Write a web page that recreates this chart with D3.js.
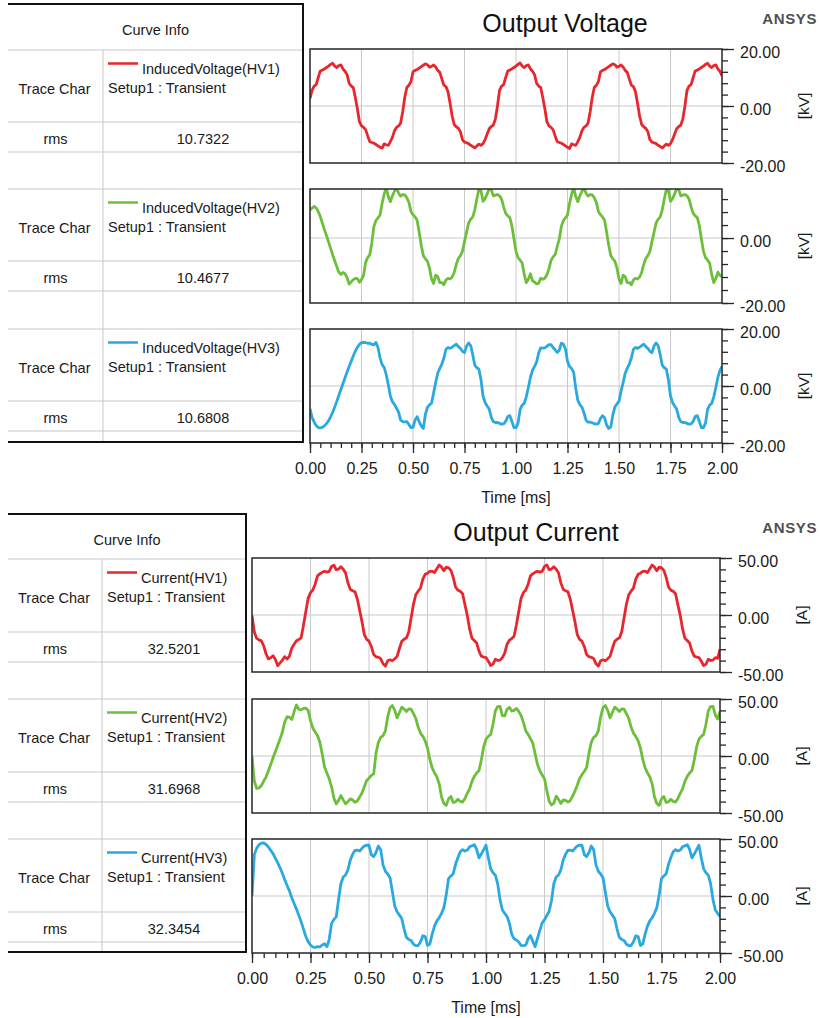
<!DOCTYPE html>
<html>
<head>
<meta charset="utf-8">
<script src="https://cdn.jsdelivr.net/npm/d3@7"></script>
<style>
  body { margin: 0; background: #fff; }
  svg { display: block; font-family: "Liberation Sans", Arial, sans-serif; }
</style>
</head>
<body>
<script>
// sample times in ms, one every 0.01 ms
var timeMs = d3.range(201).map(function(i) { return i / 100; });

// induced voltage, kV
var voltHV1 = [
  2.7, 5.5, 7, 7.5, 10, 12.3, 12.6, 13, 13.5, 14,
  14.6, 15, 14, 13.5, 14.2, 14.4, 13, 12.2, 11, 8,
  7, 6.5, 3, -1, -5.5, -7, -7.5, -8.3, -10.5, -12.5,
  -12.8, -13, -13.5, -14, -14.5, -14.8, -13.3, -13.6, -13.8, -12.5,
  -11, -8.7, -7.5, -7, -6, -2,
  3, 6.5, 7.3, 8.5, 12, 12.5, 12.8, 13.3, 13.8, 14.3,
  14.8, 14.5, 13.6, 13.9, 14.4, 13.7, 12.5, 11.8, 9.5, 7.3,
  6.8, 5, 1, -3.5, -6.5, -7.3, -7.8, -9, -11.8, -12.7,
  -12.9, -13.2, -13.8, -14.2, -14.7, -14, -13.4, -13.8, -13.2, -11.8,
  -9.8, -8, -7.2, -6.7, -4.5,
  0, 5.5, 7, 7.5, 10, 12.3, 12.6, 13, 13.5, 14,
  14.6, 15.1, 14, 13.5, 14.2, 14.4, 13, 12.2, 11, 8,
  7, 6.5, 3, -1, -5.5, -7, -7.5, -8.3, -10.5, -12.5,
  -12.8, -13, -13.5, -14, -14.5, -14.9, -13.3, -13.6, -13.8, -12.5,
  -11, -8.7, -7.5, -7, -6, -2,
  3, 6.5, 7.3, 8.5, 12, 12.5, 12.8, 13.3, 13.8, 14.3,
  14.8, 14.5, 13.6, 13.9, 14.4, 13.7, 12.5, 11.8, 9.5, 7.3,
  6.8, 5, 1, -3.5, -6.5, -7.3, -7.8, -9, -11.8, -12.7,
  -12.9, -13.2, -13.8, -14.2, -14.7, -14, -13.4, -13.8, -13.2, -11.8,
  -9.8, -8, -7.2, -6.7, -4.5,
  0, 5.5, 7, 7.5, 10, 12.3, 12.6, 13, 13.5, 14,
  14.6, 15, 14, 13.5, 14.2, 14.4, 13, 12.2, 10.5
];
var voltHV2 = [
  8.7, 9.2, 9.7, 9.3, 8.2, 6.6, 4.6, 2.6, 0.8, -1.2,
  -3.2, -5.2, -7, -8.8, -10.5, -11.2, -10.6, -11, -12.2, -14.2,
  -13.5, -12.8, -12.4, -12.5, -13.6, -12.8, -11.5, -7.5, -6, -5.2,
  -1.5,
  3.5, 5.4, 6.2, 7.1, 10.7, 13.5, 15.5, 12.8, 11.2, 13,
  14.4, 15.5, 13.8, 12.9, 13.4, 13.3, 12.4, 11, 8.2, 7.2,
  6.5, 5.5, 1.8, -2.2, -5.4, -6.4, -7.1, -9.2, -12.6, -14,
  -11.4, -11.9, -13.7, -13.7, -14.4, -12.9, -12.4, -12.6, -12, -10.6,
  -8.1, -6.3, -5.4, -4.1, -1.1,
  1.8, 4.6, 5.8, 6.5, 8.7, 12.1, 15, 14.6, 11.3, 12.1,
  13.6, 15.2, 14.9, 13, 13.2, 13.4, 13, 12, 9.6, 7.6,
  6.8, 6.3, 3.8, -0.2, -4.1, -6, -6.8, -7.7, -11.2, -13.7,
  -12.7, -11, -13.1, -13.6, -14.1, -13.9, -12.4, -12.7, -12.4, -11.3,
  -9.5, -6.9, -5.8, -5.1, -2.6,
  -0.3,
  3.5, 5.4, 6.2, 7.1, 10.7, 13.5, 15.5, 12.8, 11.2, 13,
  14.4, 15.5, 13.8, 12.9, 13.4, 13.3, 12.4, 11, 8.2, 7.2,
  6.5, 5.5, 1.8, -2.2, -5.4, -6.4, -7.1, -9.2, -12.6, -14,
  -11.4, -11.9, -13.7, -13.7, -14.4, -12.9, -12.4, -12.6, -12, -10.6,
  -8.1, -6.3, -5.4, -4.1, -1.1,
  1.8, 4.6, 5.8, 6.5, 8.7, 12.1, 15, 14.6, 11.3, 12.1,
  13.6, 15.2, 14.9, 13, 13.2, 13.4, 13, 12, 9.6, 7.6,
  6.8, 6.3, 3.8, -0.2, -4.1, -6, -6.8, -7.7, -11.2, -13.7,
  -12.5, -10.5, -11.5, -12
];
var voltHV3 = [
  -8, -11, -12.6, -13.9, -14.6, -14.7, -14.5, -14, -13.2, -12.2,
  -10.8, -9.2, -7.4, -5.4, -3.3, -1.2, 0.8, 2.9, 4.9, 6.8,
  8.7, 10.5, 12.2, 13.6, 14.6, 15.2, 15.3, 15.2, 15, 15,
  14.6, 14.4, 15.3, 13.5, 9.9, 7.5, 6.5, 4, 0.5, -3.5,
  -5.5, -6.5, -7.8, -9.2, -12, -12.5, -12.6, -12.5, -13.5, -14.6,
  -14.5, -12, -10.8, -12.5, -14, -14.9, -10, -7.5, -6.6, -6,
  -2.5,
  1.2, 4.5, 6.2, 7.7, 9.8, 12.9, 13.5, 13.2, 13.6, 14.2,
  14.7, 13.8, 13.2, 12.2, 11.7, 14, 15.1, 14.2, 11, 7.3,
  6.4, 5.9, 2.2, -3.5, -5.8, -7, -8.1, -11, -12.5, -12.8,
  -12.8, -13.1, -13.4, -13.3, -12.4, -10.7, -10.4, -12.4, -14.6, -14.6,
  -13, -8.2, -6.7, -6.1, -3.8,
  -0.5, 3, 5.5, 6.9, 8.4, 11.6, 13.4, 13.3, 13.4, 13.9,
  14.5, 14.5, 13.5, 12.7, 11.8, 12.5, 15, 14.7, 13, 8.7,
  6.8, 6.1, 4.8, -0.8, -5, -6.5, -7.4, -9.4, -12, -12.7,
  -12.7, -12.9, -13.2, -13.4, -13.1, -11.4, -10.4, -11.1, -13.7, -14.9,
  -14.4, -10.2, -7.3, -6.3, -5.4, -1.8,
  1.2, 4.5, 6.2, 7.7, 9.8, 12.9, 13.5, 13.2, 13.6, 14.2,
  14.7, 13.8, 13.2, 12.2, 11.7, 14, 15.1, 14.2, 11, 7.3,
  6.4, 5.9, 2.2, -3.5, -5.8, -7, -8.1, -11, -12.5, -12.8,
  -12.8, -13.1, -13.4, -13.3, -12.4, -10.7, -10.4, -12.4, -14.6, -14.6,
  -13, -8.2, -6.7, -6.1, -3.8,
  -0.5, 3, 5.5, 6.9
];

// output current, A
var currHV1 = [
  -0.5, -15, -20.5, -21.8, -22.7, -27, -34, -38.5, -37.5, -35.8,
  -39, -44.5, -42, -39.5, -36.5, -38.7, -36, -29, -25.6, -22.5,
  -21.5, -20, -9,
  3, 14.6, 19.6, 21.9, 27, 34.3, 36.2, 37.4, 38.4, 37.6,
  38.3, 42.6, 43.7, 39.7, 40.3, 42.4, 40.2, 36.8, 28.2, 22.5,
  21.3, 20.4, 14, 4.2, -5.8, -17.2, -21.4, -23, -27.6, -34.7,
  -36.6, -37.1, -38.3, -42.8, -44.8, -40.1, -39.3, -40.1, -38.4, -36.3,
  -29.4, -23.1, -21.3, -20.1, -14.6, -2.6,
  9.4, 17.8, 20.9, 23.5, 31.4, 35.7, 36.7, 38.2, 38.3, 37.2,
  40.5, 43.8, 42, 38.9, 42, 41.4, 39.1, 33, 24.4, 21.8,
  20.8, 18.6, 9, -0.3, -12.2, -20.3, -22.3, -24.5, -31.6, -36.1,
  -36.9, -37.3, -40.5, -44.4, -43.1, -38.8, -39.9, -39.6, -37.4, -33.4,
  -25.6, -22.1, -20.7, -18.7, -8.6,
  3, 14.6, 19.6, 21.9, 27, 34.3, 36.2, 37.4, 38.4, 37.6,
  38.3, 42.6, 43.9, 39.7, 40.3, 42.4, 40.2, 36.8, 28.2, 22.5,
  21.3, 20.4, 14, 4.2, -5.8, -17.2, -21.4, -23, -27.6, -34.7,
  -36.6, -37.1, -38.3, -42.8, -44.8, -40.1, -39.3, -40.1, -38.4, -36.3,
  -29.4, -23.1, -21.3, -20.1, -14.6, -2.6,
  9.4, 17.8, 20.9, 23.5, 31.4, 35.7, 36.7, 38.2, 38.3, 37.2,
  40.5, 43.8, 42, 38.9, 42, 41.4, 39.1, 33, 24.4, 21.8,
  20.8, 18.6, 9, -0.3, -12.2, -20.3, -22.3, -24.5, -31.6, -36.1,
  -36.9, -37.3, -40.5, -44.4, -43.1, -38.8, -39.9, -39.6, -37.4, -38,
  -30
];
var currHV2 = [
  0, -22, -28.5, -28, -25.9, -22, -18.5, -13, -7.5, -1.5,
  4, 9.5, 15, 21, 30, 34.4, 34, 32, 39, 44.7,
  41, 40.5, 41.8, 42, 40, 31, 24.5, 21, 18, 12,
  2, -9.7, -15, -20, -27, -37, -42, -39, -34.7, -38.5,
  -42, -40, -37.6, -38.5, -40.6, -39.5, -36, -32.5, -27, -21.5,
  -19.5, -17, -15.6,
  2.5, 12, 16.4, 17.9, 22, 34.4, 42.4, 44.3, 40, 33.4,
  38.2, 42.8, 41.2, 39, 41.3, 41, 37.2, 33, 25.4, 20.1,
  17.2, 13.4, 7, -3, -10.5, -14.8, -18.2, -24.4, -36, -41.6,
  -43.3, -37.6, -35.6, -40.8, -40.2, -38, -39.8, -40.4, -37.2, -32.7,
  -28.8, -22.3, -17.9, -14.9, -12.8, -3.5,
  8, 14.8, 17.3, 18.9, 27.8, 39.6, 43.4, 43.6, 35.4, 35.2,
  41, 42.7, 39.5, 40.1, 41.7, 39.2, 35.4, 29.4, 22, 19,
  15.2, 11.2, 2, -7.5, -12.8, -16.7, -20, -30.4, -39.8, -42.9,
  -41.4, -35.2, -38.2, -41.6, -38.6, -38.9, -40.4, -39.2, -35.2, -30.9,
  -25.6, -19.7, -16.4, -13.6, -10,
  2.5, 12, 16.4, 17.9, 22, 34.4, 42.4, 44.3, 40, 33.4,
  38.2, 42.8, 41.2, 39, 41.3, 41, 37.2, 33, 25.4, 20.1,
  17.2, 13.4, 7, -3, -10.5, -14.8, -18.2, -24.4, -36, -41.6,
  -43.3, -37.6, -35.6, -40.8, -40.2, -38, -39.8, -40.4, -37.2, -32.7,
  -28.8, -22.3, -17.9, -14.9, -12.8, -3.5,
  8, 14.8, 17.3, 18.9, 27.8, 39.6, 43.4, 43.6, 36, 32.5,
  39
];
var currHV3 = [
  0, 36.3, 42, 45, 46.4, 46.5, 45.2, 43, 40, 37.2,
  33, 29, 24.7, 19.7, 14.2, 9.2, 4.5, -1.5, -6.5, -11.5,
  -17, -22.5, -29, -35.5, -40, -43, -44.8, -45, -44.5, -44.6,
  -43, -41.9, -44.5, -38, -24, -20.5, -18.3, -3,
  11, 16.7, 18.4, 23, 31.5, 36.5, 40.1, 40.3, 39.4, 41.8,
  43.8, 44.6, 44.5, 36.3, 34.5, 38.2, 43.8, 40.6, 27.3, 21.7,
  19.3, 16, 3.6, -8.8, -13.8, -16.8, -19.8, -29, -36.3, -38.1,
  -39.1, -42.3, -43.5, -43.5, -40.4, -34.9, -35.5, -43.4, -42, -33.4,
  -26.4, -21.8, -19.1, -15.2, -10.2, 1,
  15.3, 17.6, 19.6, 27.8, 33.8, 38.8, 40.7, 39.4, 40.3, 43.1,
  44.1, 45, 41, 33.4, 36.8, 40.7, 44.5, 33.6, 24, 20.3,
  18.3, 10.6, -3.2, -12.3, -15.3, -18, -24, -33.6, -37.6, -38.6,
  -40.4, -43.4, -43.6, -42.9, -37.4, -34.7, -39.8, -44.4, -37.2, -30.2,
  -23.6, -20.9, -17.1, -13.4, -4,
  11, 16.7, 18.4, 23, 31.5, 36.5, 40.1, 40.3, 39.4, 41.8,
  43.8, 44.6, 44.5, 36.3, 34.5, 38.2, 43.8, 40.6, 27.3, 21.7,
  19.3, 16, 3.6, -8.8, -13.8, -16.8, -19.8, -29, -36.3, -38.1,
  -39.1, -42.3, -43.5, -43.5, -40.4, -34.9, -35.5, -43.4, -42, -33.4,
  -26.4, -21.8, -19.1, -15.2, -10.2, 1,
  15.3, 17.6, 19.6, 27.8, 33.8, 38.8, 40.7, 39.4, 40.3, 43.1,
  44.1, 45, 41, 33.4, 36.8, 40.7, 44.5, 33.6, 24, 20.3,
  18.3, 10.6, -3.2, -12.3, -15.3, -18
];

var voltNames = ["InducedVoltage(HV1)", "InducedVoltage(HV2)", "InducedVoltage(HV3)"];
var voltRms = ["10.7322", "10.4677", "10.6808"];
var currNames = ["Current(HV1)", "Current(HV2)", "Current(HV3)"];
var currRms = ["32.5201", "31.6968", "32.3454"];

var voltDomains = [[-20, 20], [-20, 15.1], [-20, 20]];
var voltLabels = [[20, 0, -20], [0, -20], [20, 0, -20]];
var currDomains = [[-50, 50], [-50, 50], [-50, 50]];
var currLabels = [[50, 0, -50], [50, 0, -50], [50, 0, -50]];
var xTicks = [0, 0.25, 0.5, 0.75, 1, 1.25, 1.5, 1.75, 2];

var colors = ["#e8262e", "#6dbf3b", "#2aa9e1"];
var gray = "#c9c9c9";
var dark = "#262626";

var svg = d3.select("body").append("svg")
  .attr("width", 820)
  .attr("height", 1018);

var clipId = 0;

function hline(g, y, x0, x1, col, w) {
  g.append("line").attr("x1", x0).attr("x2", x1).attr("y1", y).attr("y2", y)
    .style("stroke", col).style("stroke-width", w);
}
function vline(g, x, y0, y1, col, w) {
  g.append("line").attr("x1", x).attr("x2", x).attr("y1", y0).attr("y2", y1)
    .style("stroke", col).style("stroke-width", w);
}

function drawTable(t, names, rms) {
  var g = svg.append("g").style("font-size", "14.5px").style("fill", "#1a1a1a");
  hline(g, t.headBottom, t.x0, t.x1, gray, 1);
  vline(g, t.colX, t.headBottom, t.bottom, gray, 1);

  g.append("text").attr("x", (t.x0 + t.x1) / 2).attr("y", t.top + 31)
    .style("text-anchor", "middle").text("Curve Info");

  t.blocks.forEach(function(bt, i) {
    if (i > 0) hline(g, bt, t.x0, t.x1, gray, 1);
    hline(g, bt + t.traceH, t.x0, t.x1, gray, 1);
    hline(g, bt + t.traceH + t.rmsH, t.x0, t.x1, gray, 1);

    g.append("text").attr("x", (t.x0 + t.colX) / 2 - 1).attr("y", bt + 44)
      .style("text-anchor", "middle").text("Trace Char");
    g.append("line")
      .attr("x1", t.colX + 5).attr("x2", t.colX + 35)
      .attr("y1", bt + 13.5).attr("y2", bt + 13.5)
      .style("stroke", colors[i]).style("stroke-width", 2.5);
    g.append("text").attr("x", t.colX + 39).attr("y", bt + 24).text(names[i]);
    g.append("text").attr("x", t.colX + 5).attr("y", bt + 43).text("Setup1 : Transient");

    var ry = bt + t.traceH + 22;
    g.append("text").attr("x", (t.x0 + t.colX) / 2).attr("y", ry)
      .style("text-anchor", "middle").text("rms");
    g.append("text").attr("x", (t.colX + t.x1) / 2).attr("y", ry)
      .style("text-anchor", "middle").text(rms[i]);
  });

  hline(g, t.top, t.x0, t.x1 + 1, "#111", 2);
  vline(g, t.x1, t.top, t.bottom + 1, "#111", 2);
  hline(g, t.bottom, t.x0, t.x1 + 1, "#111", 2);
}

function drawPlots(p) {
  var x = d3.scaleLinear().domain([0, 2]).range([p.left, p.right]);
  var lastBottom = 0;

  p.series.forEach(function(vals, i) {
    var top = p.tops[i];
    var bottom = top + p.h;
    lastBottom = bottom;
    var dom = p.domains[i];
    var y = d3.scaleLinear().domain(dom).range([bottom, top]);
    var g = svg.append("g");

    // grid
    g.selectAll(".vg").data(xTicks.slice(1, -1)).enter().append("line")
      .attr("x1", function(d) { return x(d); }).attr("x2", function(d) { return x(d); })
      .attr("y1", top).attr("y2", bottom)
      .style("stroke", gray).style("stroke-width", 1);
    g.append("line").attr("x1", p.left).attr("x2", p.right)
      .attr("y1", y(0)).attr("y2", y(0))
      .style("stroke", gray).style("stroke-width", 1);

    // curve, clipped to the plot box
    clipId += 1;
    svg.append("clipPath").attr("id", "clip" + clipId)
      .append("rect").attr("x", p.left).attr("y", top)
      .attr("width", p.right - p.left).attr("height", p.h);
    var line = d3.line()
      .x(function(d, j) { return x(timeMs[j]); })
      .y(function(d) { return y(d); });
    g.append("path").datum(vals)
      .attr("clip-path", "url(#clip" + clipId + ")")
      .attr("d", line)
      .style("fill", "none")
      .style("stroke", colors[i])
      .style("stroke-width", 2.8)
      .style("stroke-linejoin", "round");

    // box
    g.append("rect").attr("x", p.left).attr("y", top)
      .attr("width", p.right - p.left).attr("height", p.h)
      .style("fill", "none").style("stroke", dark).style("stroke-width", 1.5);

    // right axis: minor then major ticks
    var minor = d3.range(dom[0], dom[1] + 0.001, p.minorStep);
    var yMinor = d3.axisRight(y).tickValues(minor).tickSize(6).tickFormat("");
    var yMajor = d3.axisRight(y).tickValues(p.labels[i]).tickSize(12).tickPadding(6)
      .tickFormat(function(d) { return d.toFixed(2); });
    var ax1 = g.append("g").attr("transform", "translate(" + p.right + ",0)").call(yMinor);
    var ax2 = g.append("g").attr("transform", "translate(" + p.right + ",0)").call(yMajor);
    [ax1, ax2].forEach(function(a) {
      a.select(".domain").remove();
      a.selectAll("line").style("stroke", dark).style("stroke-width", 1.3);
    });
    ax2.selectAll("text")
      .attr("dy", "0.55em")
      .style("font-family", "Liberation Sans, Arial, sans-serif")
      .style("font-size", "16px").style("fill", "#1a1a1a");

    g.append("text")
      .attr("transform", "translate(" + (p.right + 82) + "," + (top + p.h / 2) + ") rotate(-90)")
      .style("text-anchor", "middle").attr("dy", "0.35em")
      .style("font-size", "15.5px").style("fill", "#1a1a1a")
      .text(p.unit);
  });

  // time axis under the last plot
  var xMinor = d3.axisBottom(x).tickValues(d3.range(0, 2.001, 0.05)).tickSize(5).tickFormat("");
  var xMajor = d3.axisBottom(x).tickValues(xTicks).tickSize(10).tickPadding(10)
    .tickFormat(function(d) { return d.toFixed(2); });
  var bx1 = svg.append("g").attr("transform", "translate(0," + lastBottom + ")").call(xMinor);
  var bx2 = svg.append("g").attr("transform", "translate(0," + lastBottom + ")").call(xMajor);
  [bx1, bx2].forEach(function(a) {
    a.select(".domain").remove();
    a.selectAll("line").style("stroke", dark).style("stroke-width", 1.3);
  });
  bx2.selectAll("text")
    .style("font-family", "Liberation Sans, Arial, sans-serif")
    .style("font-size", "16px").style("fill", "#1a1a1a");

  svg.append("text")
    .attr("x", (p.left + p.right) / 2).attr("y", lastBottom + 60)
    .style("text-anchor", "middle").style("font-size", "16px").style("fill", "#1a1a1a")
    .text("Time [ms]");

  // title and logo
  svg.append("text")
    .attr("x", (p.left + 820) / 2).attr("y", p.tops[0] - 17)
    .style("text-anchor", "middle").style("font-size", "25px").style("fill", "#111")
    .text(p.title);
  svg.append("text")
    .attr("x", 817).attr("y", p.tops[0] - 25)
    .style("text-anchor", "end").style("font-size", "15px").style("font-weight", "bold")
    .style("letter-spacing", "0.6px").style("fill", "#505050")
    .text("ANSYS");
}

drawTable({ x0: 8, x1: 303, colX: 103, top: 4, headBottom: 50, bottom: 442,
            blocks: [50, 189, 329], traceH: 72, rmsH: 30 }, voltNames, voltRms);
drawTable({ x0: 8, x1: 246, colX: 102, top: 514, headBottom: 559, bottom: 952,
            blocks: [559, 699, 839], traceH: 73, rmsH: 30 }, currNames, currRms);

drawPlots({ left: 310, right: 722, tops: [49, 189, 329], h: 114,
            series: [voltHV1, voltHV2, voltHV3], domains: voltDomains, labels: voltLabels,
            minorStep: 4, unit: "[kV]", title: "Output Voltage" });
drawPlots({ left: 252, right: 720, tops: [558, 699, 839], h: 114,
            series: [currHV1, currHV2, currHV3], domains: currDomains, labels: currLabels,
            minorStep: 10, unit: "[A]", title: "Output Current" });
</script>
</body>
</html>
